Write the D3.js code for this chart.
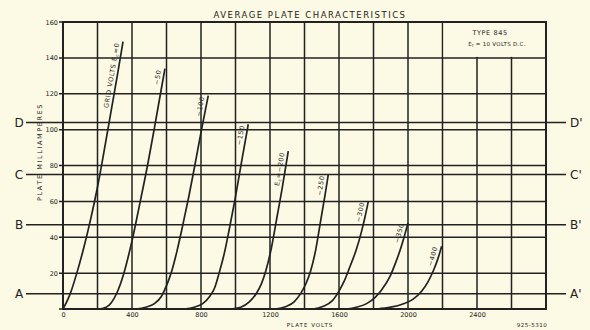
<!DOCTYPE html>
<html>
<head>
<meta charset="utf-8">
<script src="https://cdn.jsdelivr.net/npm/d3@7"></script>
<style>
	html, body { margin: 0; padding: 0; background: #fcf9e4; }
	svg { display: block; font-family: "DejaVu Sans", sans-serif; }
</style>
</head>
<body>
<div id="chart"></div>
<script>
// grid bias of each curve and the text written along it
const gridVolts = [0, -50, -100, -150, -200, -250, -300, -350, -400];
const curveLabels = ["GRID VOLTS Ec=0", "−50", "−100", "−150", "Ec=−200", "−250", "−300", "−350", "−400"];

// [plate volts, plate milliamperes]
const ec0 = [[0, 0], [40, 8], [80, 20], [120, 34], [160, 50], [200, 68], [240, 89], [280, 111], [320, 133], [348, 149]];
const ec50 = [[210, 0], [250, 1], [280, 3.5], [310, 8.5], [350, 19], [400, 38], [450, 61], [490, 80], [530, 101], [565, 120], [591, 134]];
const ec100 = [[420, 0], [480, 1], [530, 3], [570, 7], [600, 13], [630, 21], [660, 32], [695, 47], [730, 63], [770, 83], [805, 101], [842, 119]];
const ec150 = [[700, 0], [760, 1], [810, 3], [850, 7], [880, 12], [905, 20], [935, 31], [965, 45], [997, 61], [1035, 82], [1074, 103]];
const ec200 = [[970, 0], [1030, 1], [1080, 4], [1120, 8.5], [1150, 14], [1175, 21], [1210, 35], [1240, 51], [1270, 67], [1306, 88]];
const ec250 = [[1230, 0], [1290, 1.3], [1340, 4], [1380, 9], [1410, 14.5], [1435, 21], [1465, 33], [1495, 50], [1520, 64], [1538, 75]];
const ec300 = [[1450, 0], [1510, 1.5], [1560, 4.5], [1600, 10], [1630, 15.5], [1665, 24], [1700, 33], [1730, 43], [1750, 51], [1770, 60]];
const ec350 = [[1640, 0], [1700, 1], [1760, 3], [1810, 6.5], [1850, 11], [1895, 18], [1925, 25], [1955, 33], [1980, 41], [2000, 48]];
const ec400 = [[1820, 0], [1900, 1], [1970, 2.8], [2030, 5.5], [2080, 10], [2115, 15], [2150, 22], [2175, 28.5], [2195, 35]];
const curves = [ec0, ec50, ec100, ec150, ec200, ec250, ec300, ec350, ec400];

// reference lines A-A' ... D-D' (milliamperes)
const refNames = ["A", "B", "C", "D"];
const refMa = [8.5, 47, 75, 104];

const xTicks = [0, 400, 800, 1200, 1600, 2000, 2400];
const yTicks = [20, 40, 60, 80, 100, 120, 140, 160];

const ink = "#222";
const paper = "#fcf9e4";

const svg = d3.select("#chart").append("svg").attr("width", 590).attr("height", 330);
svg.append("rect").attr("width", 590).attr("height", 330).attr("fill", paper);

const x = d3.scaleLinear().domain([0, 2800]).range([63, 546]);
const y = d3.scaleLinear().domain([0, 160]).range([309, 22]);

// grid
const grid = svg.append("g").attr("stroke", ink).attr("stroke-width", 1.5);
grid.selectAll("line.v")
	.data(x.ticks(14))
	.join("line")
	.attr("class", "v")
	.attr("x1", (d) => x(d))
	.attr("x2", (d) => x(d))
	.attr("y1", y(160))
	.attr("y2", y(0));
grid.selectAll("line.h")
	.data(y.ticks(8))
	.join("line")
	.attr("class", "h")
	.attr("x1", x(0) - 4)
	.attr("x2", x(2800))
	.attr("y1", (d) => y(d))
	.attr("y2", (d) => y(d));

// blank panel for the type note
svg.append("rect")
	.attr("x", x(2200) + 1)
	.attr("y", y(160) + 1)
	.attr("width", x(2800) - x(2200) - 2)
	.attr("height", y(140) - y(160) - 2)
	.attr("fill", paper);

// border
svg.append("rect")
	.attr("x", x(0))
	.attr("y", y(160))
	.attr("width", x(2800) - x(0))
	.attr("height", y(0) - y(160))
	.attr("fill", "none")
	.attr("stroke", ink)
	.attr("stroke-width", 2);

// reference lines
const refs = svg.append("g");
refs.selectAll("line")
	.data(refMa)
	.join("line")
	.attr("x1", 26)
	.attr("x2", 566)
	.attr("y1", (d) => y(d))
	.attr("y2", (d) => y(d))
	.attr("stroke", ink)
	.attr("stroke-width", 1.5);
refs.selectAll("text.l")
	.data(refNames)
	.join("text")
	.attr("class", "l")
	.attr("x", 19)
	.attr("y", (d, i) => y(refMa[i]))
	.attr("dy", "0.36em")
	.attr("text-anchor", "middle")
	.attr("font-size", 12)
	.attr("fill", ink)
	.text((d) => d);
refs.selectAll("text.r")
	.data(refNames)
	.join("text")
	.attr("class", "r")
	.attr("x", 570)
	.attr("y", (d, i) => y(refMa[i]))
	.attr("dy", "0.36em")
	.attr("font-size", 12)
	.attr("fill", ink)
	.text((d) => d + "'");

// axes labels
const yAxis = svg.append("g")
	.attr("transform", `translate(${x(0) - 4},0)`)
	.call(d3.axisLeft(y).tickValues(yTicks).tickSize(0).tickPadding(1));
yAxis.select(".domain").remove();
yAxis.selectAll("text").attr("font-size", 6.5).attr("font-family", "DejaVu Sans").attr("fill", ink);

const xAxis = svg.append("g")
	.attr("transform", `translate(0,${y(0)})`)
	.call(d3.axisBottom(x).tickValues(xTicks).tickFormat(d3.format("d")).tickSize(0).tickPadding(3));
xAxis.select(".domain").remove();
xAxis.selectAll("text").attr("font-size", 6.5).attr("font-family", "DejaVu Sans").attr("fill", ink);

// curves
const line = d3.line()
	.x((d) => x(d[0]))
	.y((d) => y(d[1]))
	.curve(d3.curveMonotoneX);

svg.append("g")
	.selectAll("path")
	.data(curves)
	.join("path")
	.attr("d", line)
	.attr("fill", "none")
	.attr("stroke", ink)
	.attr("stroke-width", 1.7);

// labels along the top of each curve
curves.forEach((c, i) => {
	const a = c[c.length - 2];
	const b = c[c.length - 1];
	const px = x(b[0]);
	const py = y(b[1]);
	const ang = (Math.atan2(y(b[1]) - y(a[1]), x(b[0]) - x(a[0])) * 180) / Math.PI;
	const t = svg.append("text")
		.attr("transform", `translate(${px},${py}) rotate(${ang})`)
		.attr("x", -2)
		.attr("y", -3.5)
		.attr("text-anchor", "end")
		.attr("font-size", 6.5)
		.attr("letter-spacing", 0.6)
		.attr("fill", ink);
	const s = curveLabels[i];
	const k = s.indexOf("Ec");
	if (k < 0) {
		t.text(s);
	} else {
		t.append("tspan").text(s.slice(0, k + 1));
		t.append("tspan").attr("font-size", 4.5).attr("dy", 1.2).text("c");
		t.append("tspan").attr("dy", -1.2).text(s.slice(k + 2));
	}
});

// titles
svg.append("text")
	.attr("x", 310)
	.attr("y", 18)
	.attr("text-anchor", "middle")
	.attr("font-size", 8.5)
	.attr("letter-spacing", 1.5)
	.attr("fill", ink)
	.text("AVERAGE PLATE CHARACTERISTICS");

svg.append("text")
	.attr("x", 490)
	.attr("y", 35)
	.attr("text-anchor", "middle")
	.attr("font-size", 6.5)
	.attr("letter-spacing", 0.6)
	.attr("fill", ink)
	.text("TYPE 845");

const ef = svg.append("text")
	.attr("x", 497)
	.attr("y", 46)
	.attr("text-anchor", "middle")
	.attr("font-size", 5.5)
	.attr("letter-spacing", 0.3)
	.attr("fill", ink);
ef.append("tspan").text("E");
ef.append("tspan").attr("font-size", 4).attr("dy", 1).text("f");
ef.append("tspan").attr("dy", -1).text(" = 10 VOLTS D.C.");

svg.append("text")
	.attr("transform", "translate(42,152) rotate(-90)")
	.attr("text-anchor", "middle")
	.attr("font-size", 6.5)
	.attr("letter-spacing", 1.6)
	.attr("fill", ink)
	.text("PLATE MILLIAMPERES");

svg.append("text")
	.attr("x", 310)
	.attr("y", 327)
	.attr("text-anchor", "middle")
	.attr("font-size", 5.5)
	.attr("letter-spacing", 1)
	.attr("fill", ink)
	.text("PLATE VOLTS");

svg.append("text")
	.attr("x", 532)
	.attr("y", 327)
	.attr("text-anchor", "middle")
	.attr("font-size", 5.5)
	.attr("letter-spacing", 0.5)
	.attr("fill", ink)
	.text("925-5310");
</script>
</body>
</html>
